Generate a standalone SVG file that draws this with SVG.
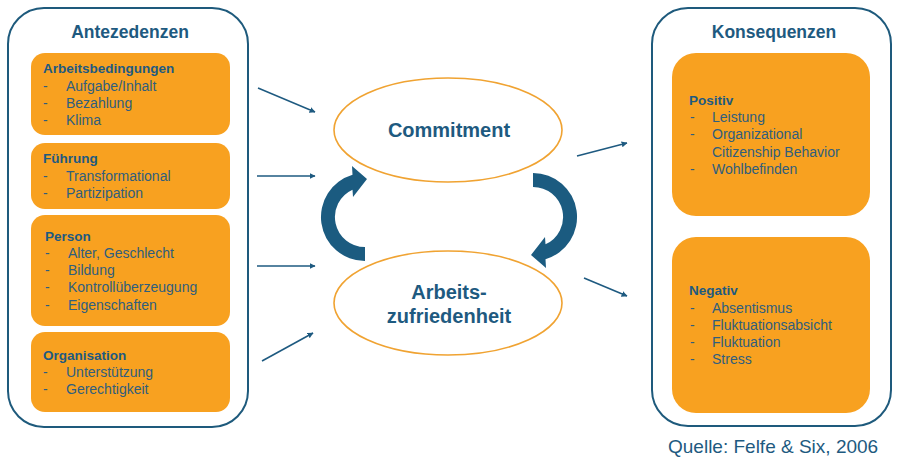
<svg xmlns="http://www.w3.org/2000/svg" width="900" height="462" viewBox="0 0 900 462">
<defs>
<style>
.cont{fill:#fff;stroke:#1e5a7c;stroke-width:2}
.box{fill:#f8a120}
.ell{fill:#fff;stroke:#f0a332;stroke-width:1.6}
.h{font-family:"Liberation Sans",Arial,sans-serif;font-weight:bold;fill:#1e5a80}
.bt{font-family:"Liberation Sans",Arial,sans-serif;font-weight:bold;font-size:13.5px;fill:#1e5a80}
.it{font-family:"Liberation Sans",Arial,sans-serif;font-size:14px;fill:#2f5e7e}
.ln{stroke:#1e5a80;stroke-width:1.6;fill:none;marker-end:url(#ah)}
.cyc{fill:#1b5b80}
</style>
<marker id="ah" viewBox="0 0 10 10" refX="9" refY="5" markerWidth="6" markerHeight="6" orient="auto" markerUnits="userSpaceOnUse">
<path d="M0,0 L10,5 L0,10 z" fill="#1e5a80"/>
</marker>
<path id="cyc" d="M365,261 A44,44 0 0 1 352.5,174.8 L352,166 L367,179 L353,197 L352.5,189.7 A30,30 0 0 0 365,247 Z"/>
</defs>

<g id="antezedenzen">
<rect class="cont" x="8" y="8" width="240" height="419" rx="36"/>
<text class="h" x="130" y="38" font-size="17.5" text-anchor="middle">Antezedenzen</text>
</g>

<g id="arbeitsbedingungen">
<rect class="box" x="31" y="53" width="199" height="82" rx="14"/>
<text class="bt" x="43" y="73">Arbeitsbedingungen</text>
<text class="it" x="43" y="91">-</text><text class="it" x="66" y="91">Aufgabe/Inhalt</text>
<text class="it" x="43" y="108">-</text><text class="it" x="66" y="108">Bezahlung</text>
<text class="it" x="43" y="125">-</text><text class="it" x="66" y="125">Klima</text>
</g>

<g id="fuehrung">
<rect class="box" x="31" y="143" width="199" height="66" rx="14"/>
<text class="bt" x="43" y="163">Führung</text>
<text class="it" x="43" y="181">-</text><text class="it" x="66" y="181">Transformational</text>
<text class="it" x="43" y="198">-</text><text class="it" x="66" y="198">Partizipation</text>
</g>

<g id="person">
<rect class="box" x="31" y="215" width="199" height="111" rx="14"/>
<text class="bt" x="45" y="241">Person</text>
<text class="it" x="45" y="258">-</text><text class="it" x="68" y="258">Alter, Geschlecht</text>
<text class="it" x="45" y="275">-</text><text class="it" x="68" y="275">Bildung</text>
<text class="it" x="45" y="292">-</text><text class="it" x="68" y="292">Kontrollüberzeugung</text>
<text class="it" x="45" y="310">-</text><text class="it" x="68" y="310">Eigenschaften</text>
</g>

<g id="organisation">
<rect class="box" x="31" y="332" width="199" height="80" rx="14"/>
<text class="bt" x="43" y="360">Organisation</text>
<text class="it" x="43" y="377">-</text><text class="it" x="66" y="377">Unterstützung</text>
<text class="it" x="43" y="394">-</text><text class="it" x="66" y="394">Gerechtigkeit</text>
</g>

<g id="konsequenzen">
<rect class="cont" x="652" y="8" width="239" height="418" rx="36"/>
<text class="h" x="774" y="38" font-size="17.5" text-anchor="middle">Konsequenzen</text>
</g>

<g id="positiv">
<rect class="box" x="672" y="53" width="198" height="163" rx="24"/>
<text class="bt" x="689" y="105">Positiv</text>
<text class="it" x="690" y="122">-</text><text class="it" x="712" y="122">Leistung</text>
<text class="it" x="690" y="139">-</text><text class="it" x="712" y="139">Organizational</text>
<text class="it" x="712" y="157">Citizenship Behavior</text>
<text class="it" x="690" y="174">-</text><text class="it" x="712" y="174">Wohlbefinden</text>
</g>

<g id="negativ">
<rect class="box" x="672" y="237" width="198" height="176" rx="24"/>
<text class="bt" x="689" y="295">Negativ</text>
<text class="it" x="690" y="313">-</text><text class="it" x="712" y="313">Absentismus</text>
<text class="it" x="690" y="330">-</text><text class="it" x="712" y="330">Fluktuationsabsicht</text>
<text class="it" x="690" y="347">-</text><text class="it" x="712" y="347">Fluktuation</text>
<text class="it" x="690" y="364">-</text><text class="it" x="712" y="364">Stress</text>
</g>

<g id="commitment">
<ellipse class="ell" cx="448" cy="130" rx="114" ry="52"/>
<text class="h" x="449" y="137" font-size="20" text-anchor="middle">Commitment</text>
</g>

<g id="arbeitszufriedenheit">
<ellipse class="ell" cx="448" cy="303" rx="114" ry="52"/>
<text class="h" x="449" y="299" font-size="20" text-anchor="middle">Arbeits-</text>
<text class="h" x="449" y="323" font-size="20" text-anchor="middle">zufriedenheit</text>
</g>

<g id="connectors">
<line class="ln" x1="258" y1="88" x2="315" y2="112"/>
<line class="ln" x1="257" y1="176" x2="315" y2="176"/>
<line class="ln" x1="257" y1="266" x2="315" y2="266"/>
<line class="ln" x1="262" y1="361" x2="313" y2="333"/>
<line class="ln" x1="577" y1="156" x2="627" y2="143"/>
<line class="ln" x1="584" y1="278" x2="627" y2="296"/>
<use href="#cyc" class="cyc"/>
<use href="#cyc" class="cyc" transform="rotate(180 449 217)"/>
</g>

<text x="668" y="453" font-family="Liberation Sans, Arial, sans-serif" font-size="19" fill="#1e5a80">Quelle: Felfe &amp; Six, 2006</text>
</svg>
